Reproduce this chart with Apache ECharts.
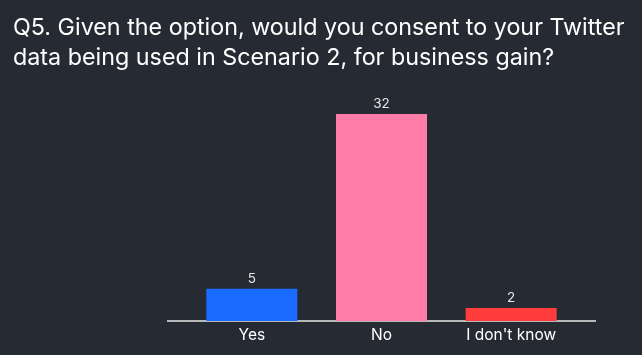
<!DOCTYPE html>
<html><head><meta charset="utf-8">
<script src="https://cdn.jsdelivr.net/npm/echarts@6/dist/echarts.min.js"></script>
<style>html,body{margin:0;padding:0;background:#262a33;}#c{width:642px;height:355px;}</style>
</head><body><div id="c"></div>
<script>
const categories = ["Yes", "No", "I don't know"];
const values = [5, 32, 2];
const colors = ["#1a6bff", "#ff7ba8", "#ff3d3d"];
const titleLines = ["Q5. Given the option, would you consent to your Twitter", "data being used in Scenario 2, for business gain?"];

const chart = echarts.init(document.getElementById('c'));
chart.setOption({
  backgroundColor: '#262a33',
  animation: false,
  title: {
    text: titleLines.join('\n'),
    left: 8, top: 8,
    textStyle: { color: '#ffffff', fontFamily: 'Inter', fontSize: 23.3, fontWeight: 'normal', lineHeight: 30 }
  },
  grid: { left: 187, right: 66, top: 114, bottom: 34 },
  xAxis: {
    type: 'category', data: categories,
    axisLine: { show: false }, axisTick: { show: false },
    axisLabel: { color: '#ffffff', fontFamily: 'Inter', fontSize: 15.5, margin: 6 }
  },
  yAxis: { type: 'value', min: 0, max: 32, show: false, splitLine: { show: false } },
  graphic: [{
    type: 'line', shape: { x1: 167, y1: 321, x2: 596, y2: 321 },
    style: { stroke: '#e8e8e8', lineWidth: 1.5 }
  }],
  series: [{
    type: 'bar', barWidth: 91,
    data: values.map((v, i) => ({ value: v, itemStyle: { color: colors[i] } })),
    label: { show: true, position: 'top', color: '#e8e8e8', fontFamily: 'Inter', fontSize: 13.5, distance: 3 }
  }]
});
</script></body></html>
